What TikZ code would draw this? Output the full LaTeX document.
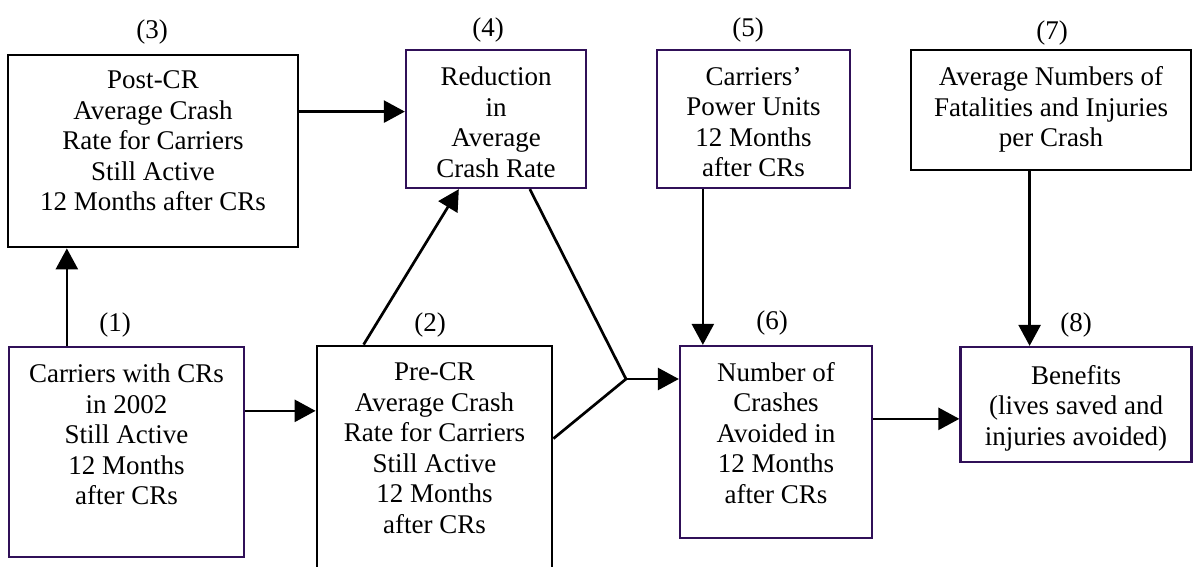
\documentclass[tikz,border=0pt]{standalone}
\usepackage{fontspec}
\setmainfont{Liberation Serif}
\usetikzlibrary{arrows.meta,calc}
\definecolor{purp}{RGB}{48,16,88}
\tikzset{
  box/.style={draw=black,line width=2.8pt,rectangle,inner sep=0pt},
  pbox/.style={box,draw=purp,line width=2.3pt},
  txt/.style={align=center,inner sep=0pt,font=\fontsize{27}{30.5}\selectfont,anchor=north},
  num/.style={inner sep=0pt,font=\fontsize{27}{30.5}\selectfont},
  arr/.style={line width=2.7pt,-{Triangle[length=21pt,width=22pt]}},
  ln/.style={line width=2.7pt}
}
\begin{document}
\begin{tikzpicture}[x=1pt,y=-1pt]
\clip (0,0) rectangle (1193,567);
\fill[white] (0,0) rectangle (1193,567);
% boxes
\node[box,minimum width=290pt,minimum height=192pt] (b3) at (153,151) {};
\node[pbox,minimum width=180pt,minimum height=138pt] (b4) at (496,119) {};
\node[pbox,minimum width=193pt,minimum height=138pt] (b5) at (753.5,119) {};
\node[box,minimum width=280pt,minimum height=120pt] (b7) at (1051,110) {};
\node[pbox,minimum width=235pt,minimum height=210pt] (b1) at (126.5,452) {};
\node[box,minimum width=235pt,minimum height=300pt] (b2) at (434.5,496) {};
\node[pbox,minimum width=192pt,minimum height=192pt] (b6) at (776,442) {};
\node[pbox,minimum width=231pt,minimum height=115pt] (b8) at (1076,404.5) {};
% texts
\node[txt] (t3) at ([yshift=-17pt]b3.north) {Post-CR\\Average Crash\\Rate for Carriers\\Still Active\\12 Months after CRs};
\node[txt] (t4) at ([yshift=-18pt]b4.north) {Reduction\\in\\Average\\Crash Rate};
\node[txt] (t5) at ([yshift=-18pt]b5.north) {Carriers’\\Power Units\\12 Months\\after CRs};
\node[txt] (t7) at ([yshift=-18pt]b7.north) {Average Numbers of\\Fatalities and Injuries\\per Crash};
\node[txt] (t1) at ([yshift=-18pt]b1.north) {Carriers with CRs\\in 2002\\Still Active\\12 Months\\after CRs};
\node[txt] (t2) at ([yshift=-18pt]b2.north) {Pre-CR\\Average Crash\\Rate for Carriers\\Still Active\\12 Months\\after CRs};
\node[txt] (t6) at ([yshift=-17pt]b6.north) {Number of\\Crashes\\Avoided in\\12 Months\\after CRs};
\node[txt] (t8) at ([yshift=-19pt]b8.north) {Benefits\\(lives saved and\\injuries avoided)};
% numbers
\node[num] (n3) at (152,32) {(3)};
\node[num] (n4) at (488,30) {(4)};
\node[num] (n5) at (748,30) {(5)};
\node[num] (n7) at (1052,33) {(7)};
\node[num] (n1) at (115,325) {(1)};
\node[num] (n2) at (430,325) {(2)};
\node[num] (n6) at (772,323) {(6)};
\node[num] (n8) at (1076,325) {(8)};
% connectors
\coordinate (j) at (626,379);
\coordinate (s1) at ($(b1.north west)+(59,0)$);
\draw[arr] (s1) -- (s1 |- b3.south);
\coordinate (s3) at ($(b3.north east)+(0,58)$);
\draw[arr] (s3) -- (s3 -| b4.west);
\coordinate (s1r) at ($(b1.north east)+(0,65)$);
\draw[arr] (s1r) -- (s1r -| b2.west);
\coordinate (s2t) at ($(b2.north west)+(48,0)$);
\coordinate (e4b) at ($(b4.south west)+(54,0)$);
\draw[arr] (s2t) -- (e4b);
\coordinate (s4b) at ($(b4.south west)+(125,0)$);
\draw[ln] (s4b) -- (j);
\coordinate (s2r) at ($(b2.north east)+(0,94)$);
\draw[ln] (s2r) -- (j);
\draw[arr] (j) -- (j -| b6.west);
\coordinate (s5) at ($(b5.south west)+(47,0)$);
\draw[arr] (s5) -- (s5 |- b6.north);
\coordinate (s7) at ($(b7.south west)+(120,0)$);
\draw[arr] (s7) -- (s7 |- b8.north);
\coordinate (s6) at ($(b6.north east)+(0,74)$);
\draw[arr] (s6) -- (s6 -| b8.west);
\end{tikzpicture}
\end{document}
